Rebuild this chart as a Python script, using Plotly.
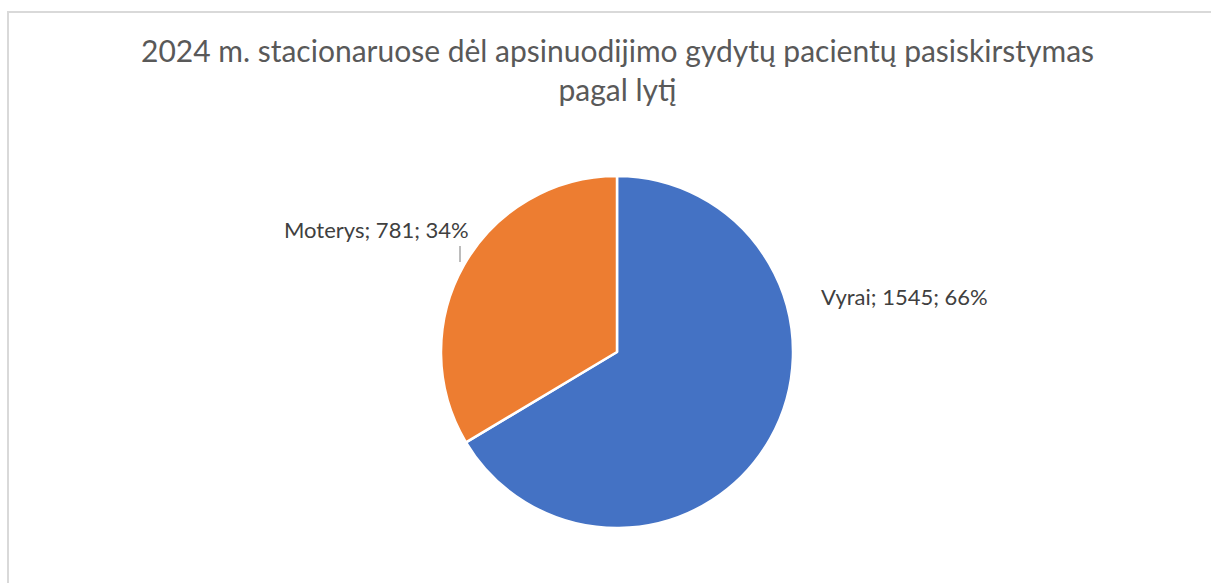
import plotly.graph_objects as go

labels = ["Vyrai", "Moterys"]
values = [1545, 781]
colors = ["#4472C4", "#ED7D31"]
title_text = "2024 m. stacionaruose dėl apsinuodijimo gydytų pacientų pasiskirstymas<br>pagal lytį"

W, H = 1211, 583
total = sum(values)
pct = [round(v / total * 100) for v in values]
texts = [f"{l}; {v}; {p}%" for l, v, p in zip(labels, values, pct)]

def px(x):
    return x / W

def py(y):
    return 1 - y / H

cx, cy, r = 617, 352, 176

fig = go.Figure(go.Pie(
    labels=labels, values=values, sort=False, direction="clockwise", rotation=0,
    marker=dict(colors=colors, line=dict(color="white", width=2.5)),
    textinfo="none", hoverinfo="label+value+percent", showlegend=False,
    domain=dict(x=[px(cx - r), px(cx + r)], y=[py(cy + r), py(cy - r)]),
))

font_family = "Lato, Carlito, 'Open Sans', sans-serif"
fig.update_layout(
    width=W, height=H, margin=dict(l=0, r=0, t=0, b=0),
    paper_bgcolor="white", plot_bgcolor="white",
    annotations=[
        dict(text=title_text, x=px(617), y=py(70), xref="paper", yref="paper",
             showarrow=False, xanchor="center", yanchor="middle",
             font=dict(family=font_family, size=30, color="#595959")),
        dict(text=texts[0], x=px(819), y=py(296), xref="paper", yref="paper",
             showarrow=False, xanchor="left", yanchor="middle",
             font=dict(family=font_family, size=22, color="#404040")),
        dict(text=texts[1], x=px(471), y=py(229), xref="paper", yref="paper",
             showarrow=False, xanchor="right", yanchor="middle",
             font=dict(family=font_family, size=22, color="#404040")),
    ],
    shapes=[
        dict(type="rect", xref="paper", yref="paper", x0=px(8), x1=1.05, y0=-0.05, y1=py(12),
             line=dict(color="#D9D9D9", width=2), fillcolor="rgba(0,0,0,0)", layer="below"),
        dict(type="line", xref="paper", yref="paper", x0=px(460), x1=px(460), y0=py(246), y1=py(262),
             line=dict(color="#A6A6A6", width=1.5)),
    ],
)

fig.write_html(
    "out.html",
    config={"displayModeBar": False},
    post_script="document.body.style.margin='0';document.body.style.overflow='hidden';",
)
